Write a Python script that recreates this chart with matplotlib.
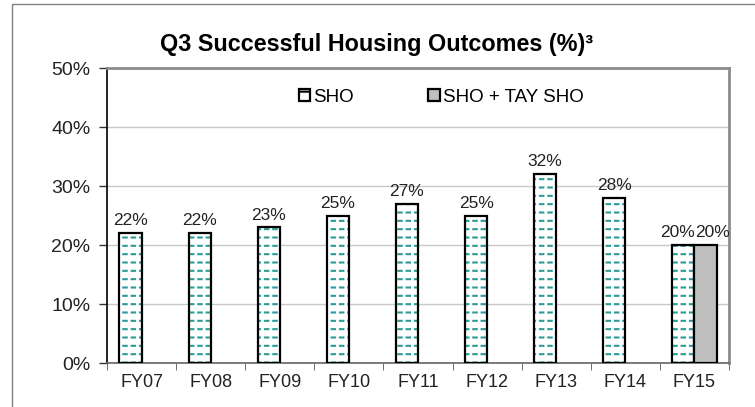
import matplotlib
matplotlib.use('Agg')
import matplotlib.pyplot as plt
import numpy as np
from matplotlib.patches import Rectangle

# ── DATA ─────────────────────────────────────────────────────────────────────
years   = ['FY07', 'FY08', 'FY09', 'FY10', 'FY11', 'FY12', 'FY13', 'FY14', 'FY15']
sho     = [22, 22, 23, 25, 27, 25, 32, 28, 20]
sho_tay = [None, None, None, None, None, None, None, None, 20]
y_ticks = [0, 10, 20, 30, 40, 50]

TEAL = '#2a9d97'
GREY = '#bfbfbf'
W    = 0.32

plt.rcParams['font.family'] = ['Liberation Sans', 'DejaVu Sans']

fig = plt.figure(figsize=(7.55, 4.07), dpi=100)
ax = fig.add_axes([0.1417, 0.1081, 0.9656 - 0.1417, 0.8329 - 0.1081])

# cadre extérieur
fig.patches.append(Rectangle((12 / 755, -0.05), 1.0, 1.05 - 4 / 407,
                             transform=fig.transFigure, fill=False,
                             edgecolor='#808080', lw=1.0))

x = np.arange(len(years))
x_tay = np.array([xi for xi, v in zip(x, sho_tay) if v is not None])
v_tay = [v for v in sho_tay if v is not None]

# SHO : tirets turquoise (lignes coupées par une trame blanche) + contour noir
plt.rcParams['hatch.linewidth'] = 1.5
ax.bar(x - W / 2, sho, W, facecolor='white', edgecolor=TEAL, hatch='--',
       lw=0, zorder=3)
plt.rcParams['hatch.linewidth'] = 2.0
ax.bar(x - W / 2, sho, W, fill=False, edgecolor='white', hatch='||',
       lw=0, zorder=3.5)
plt.rcParams['hatch.linewidth'] = 1.5
ax.bar(x - W / 2, sho, W, fill=False, edgecolor='black', lw=1.6, zorder=4)
ax.bar(x_tay + W / 2, v_tay, W, facecolor=GREY, edgecolor='black', lw=1.6,
       zorder=4)

# légende (handles factices)
h1 = Rectangle((0, 0), 1, 1, facecolor='white', edgecolor='black', lw=1.6,
               hatch='-')
h2 = Rectangle((0, 0), 1, 1, facecolor=GREY, edgecolor='black', lw=1.6)
ax.legend([h1, h2], ['SHO', 'SHO + TAY SHO'], ncol=2, frameon=False,
          loc='center', bbox_to_anchor=(0.537, 0.90), fontsize=13.5,
          handlelength=0.6, handleheight=0.6, handletextpad=0.15,
          columnspacing=4.0)

# étiquettes
for xi, v, t in zip(x, sho, sho_tay):
    if t is None:
        ax.text(xi - W / 2, v + 0.8, f'{v}%', ha='center', va='bottom',
                fontsize=12.5, color='#222222')
    else:
        ax.text(xi, v + 0.8, f'{v}%', ha='right', va='bottom',
                fontsize=12.5, color='#222222')
for xi, v in zip(x_tay, v_tay):
    ax.text(xi + 0.01, v + 0.8, f'{v}%', ha='left', va='bottom',
            fontsize=12.5, color='#222222')

ax.set_xlim(-0.5, len(years) - 0.5)
ax.set_ylim(0, 50)
ax.set_yticks(y_ticks)
ax.set_yticklabels([f'{t}%' for t in y_ticks], fontsize=14, color='#222222')
ax.set_xticks(x)
ax.set_xticklabels(years, fontsize=13, color='#222222')
ax.tick_params(axis='x', length=0, pad=8)
ax.set_xticks(np.arange(len(years) + 1) - 0.5, minor=True)
ax.tick_params(axis='x', which='minor', length=5, color='#555555')
ax.tick_params(axis='y', length=6, width=1, color='#333333', pad=6)

ax.grid(axis='y', color='#c8c8c8', lw=1, zorder=0)
ax.set_axisbelow(True)
ax.spines['top'].set_color('#8c8c8c')
ax.spines['top'].set_linewidth(2)
ax.spines['right'].set_color('#8c8c8c')
ax.spines['right'].set_linewidth(2)
ax.spines['left'].set_color('black')
ax.spines['left'].set_linewidth(1.2)
ax.spines['bottom'].set_color('#666666')
ax.spines['bottom'].set_linewidth(1.2)

fig.text(0.499, 1 - 45 / 407, 'Q3 Successful Housing Outcomes (%)³',
         ha='center', va='center', fontsize=16.8, fontweight='bold')

fig.savefig('out.png', dpi=100)
